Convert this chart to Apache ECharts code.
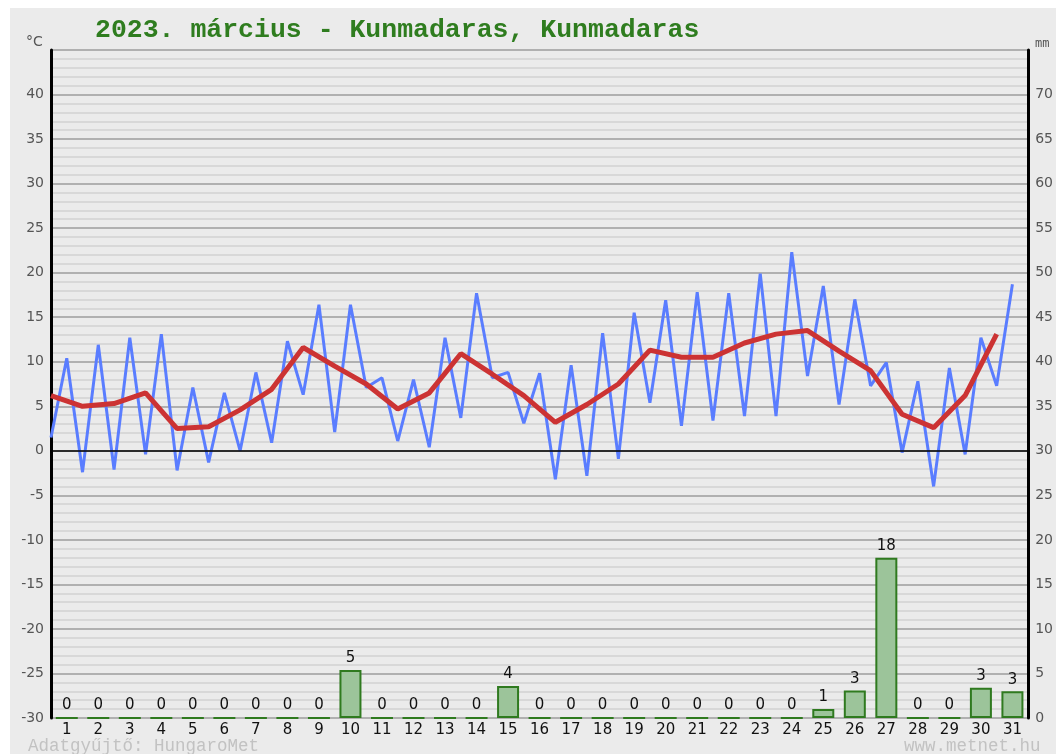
<!DOCTYPE html>
<html>
<head>
<meta charset="utf-8">
<script src="https://cdn.jsdelivr.net/npm/echarts@6/dist/echarts.min.js"></script>
<style>
html,body{margin:0;padding:0;background:#ffffff;}
#c{width:1056px;height:754px;}
</style>
</head>
<body>
<div id="c"></div>
<script>
const days = ['1','2','3','4','5','6','7','8','9','10','11','12','13','14','15','16','17','18','19','20','21','22','23','24','25','26','27','28','29','30','31'];
const tempLow = [1.5,-2.4,-2.1,-0.4,-2.2,-1.3,0.0,0.9,6.3,2.1,7.1,1.1,0.4,3.7,8.2,3.1,-3.2,-2.8,-0.9,5.4,2.8,3.4,3.9,3.9,8.4,5.2,7.3,-0.2,-4.0,-0.4,7.3];
const tempHigh = [10.4,11.9,12.7,13.1,7.1,6.5,8.8,12.3,16.4,16.4,8.2,8.0,12.7,17.7,8.8,8.7,9.6,13.2,15.5,16.9,17.8,17.7,19.9,22.3,18.5,17.0,9.9,7.8,9.3,12.7,18.7];
const tempMean = [6.2,5.0,5.3,6.5,2.5,2.7,4.6,6.9,11.6,9.5,7.5,4.7,6.5,10.9,8.6,6.2,3.2,5.2,7.5,11.3,10.5,10.5,12.1,13.1,13.5,11.2,9.0,4.1,2.6,6.2,13.1];
const precip = [0,0,0,0,0,0,0,0,0,5.4,0,0,0,0,3.6,0,0,0,0,0,0,0,0,0,1.0,3.1,18.0,0,0,3.4,3.0];

const titleText = '2023. március - Kunmadaras, Kunmadaras';
const footLeft = 'Adatgyűjtő: HungaroMet';
const footRight = 'www.metnet.hu';

// line data built on a day-based value axis: low at day start, high at day middle
const bluePts = [];
days.forEach((d, i) => {
  bluePts.push([i + 0.5, tempLow[i]]);
  bluePts.push([i + 1, tempHigh[i]]);
});
const redPts = tempMean.map((v, i) => [i + 0.5, v]);

const chart = echarts.init(document.getElementById('c'), null, {renderer: 'canvas'});
const option = {
  backgroundColor: '#ffffff',
  animation: false,
  graphic: [
    {type: 'rect', left: 10, top: 8, shape: {width: 1046, height: 746}, style: {fill: '#ebebeb'}, z: -10, silent: true},
    {type: 'text', left: 95, top: 17, style: {text: titleText, font: 'bold 26.5px "Liberation Mono", monospace', fill: '#2f7d1f'}},
    {type: 'text', left: 26, top: 35, style: {text: '°C', font: '14px "DejaVu Sans", sans-serif', fill: '#555'}},
    {type: 'text', left: 1035, top: 38, style: {text: 'mm', font: '12px "DejaVu Sans Mono", monospace', fill: '#555'}},
    {type: 'text', left: 28, top: 737, style: {text: footLeft, font: '17.5px "Liberation Mono", monospace', fill: '#c2c2c2'}},
    {type: 'text', left: 904, top: 737, style: {text: footRight, font: '17.5px "Liberation Mono", monospace', fill: '#c2c2c2'}}
  ],
  grid: {left: 51, right: 25, top: 50, bottom: 36, show: true, backgroundColor: '#ebebeb', borderWidth: 0},
  xAxis: [
    {
      type: 'category', data: days, boundaryGap: true,
      axisLine: {show: false}, axisTick: {show: false},
      axisLabel: {color: '#111', fontSize: 15, fontFamily: 'DejaVu Sans', margin: 5},
      splitLine: {show: false}
    },
    {
      type: 'value', min: 0.5, max: 31.5, show: false
    }
  ],
  yAxis: [
    {
      type: 'value', min: -30, max: 45, interval: 5, position: 'left',
      axisLine: {show: true, lineStyle: {color: '#000', width: 3}},
      axisTick: {show: false},
      axisLabel: {color: '#555', fontSize: 14, fontFamily: 'DejaVu Sans', margin: 7,
        formatter: v => (v >= 45 ? '' : String(v))},
      splitLine: {show: true, lineStyle: {color: '#9c9c9c', width: 1.5}},
      minorTick: {show: false, splitNumber: 5},
      minorSplitLine: {show: true, lineStyle: {color: '#d8d8d8', width: 2}}
    },
    {
      type: 'value', min: 0, max: 75, interval: 5, position: 'right',
      axisLine: {show: true, lineStyle: {color: '#000', width: 3}},
      axisTick: {show: false},
      axisLabel: {color: '#555', fontSize: 14, fontFamily: 'DejaVu Sans', margin: 7,
        formatter: v => (v >= 75 ? '' : String(v))},
      splitLine: {show: false}
    }
  ],
  series: [
    {
      type: 'bar', xAxisIndex: 0, yAxisIndex: 1, data: precip, barWidth: 22,
      itemStyle: {color: '#9cc49a', borderColor: '#2f7a1f', borderWidth: 2},
      label: {show: true, position: 'top', distance: 4, color: '#111', fontSize: 15, fontFamily: 'DejaVu Sans',
        formatter: p => String(Math.round(p.value))},
      z: 2
    },
    {
      type: 'line', xAxisIndex: 1, yAxisIndex: 0, data: bluePts, symbol: 'none',
      lineStyle: {color: '#5a7dff', width: 3}, z: 3,
      markLine: {silent: true, symbol: 'none', label: {show: false},
        lineStyle: {color: '#000', width: 1.5, type: 'solid'}, data: [{yAxis: 0}]}
    },
    {
      type: 'line', xAxisIndex: 1, yAxisIndex: 0, data: redPts, symbol: 'none',
      lineStyle: {color: '#cc3333', width: 5}, z: 4
    }
  ]
};
chart.setOption(option);
</script>
</body>
</html>
